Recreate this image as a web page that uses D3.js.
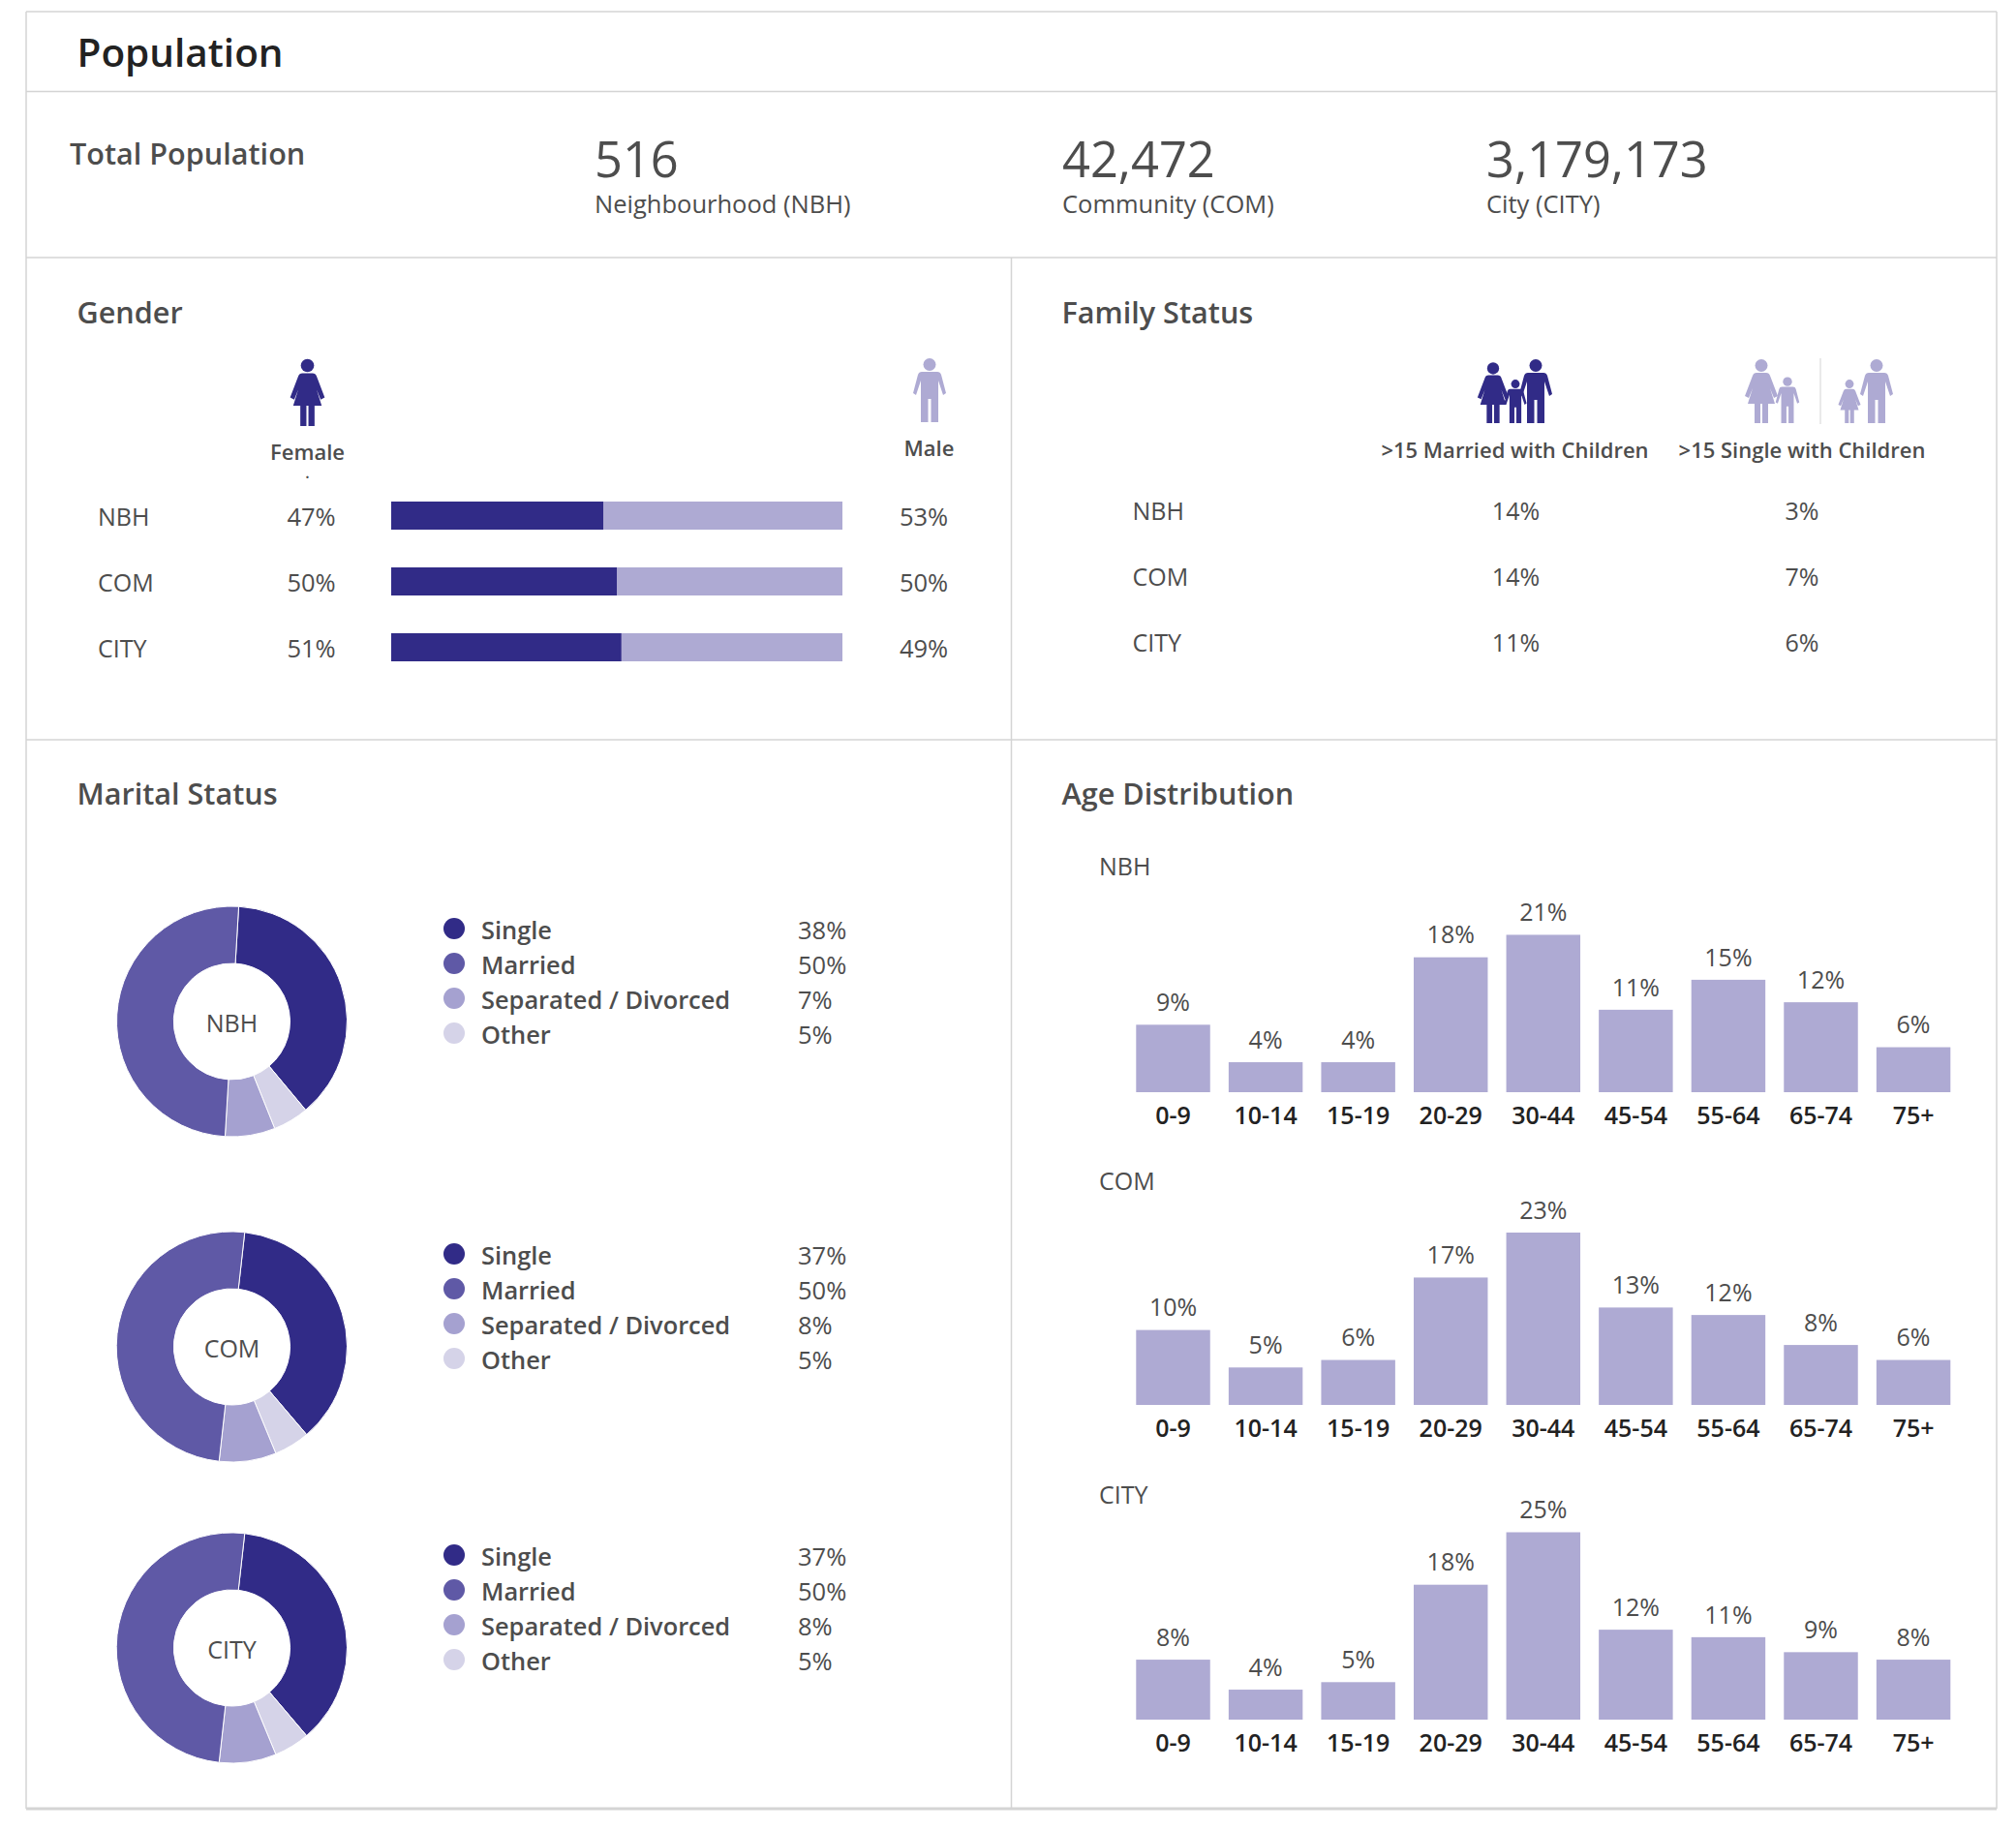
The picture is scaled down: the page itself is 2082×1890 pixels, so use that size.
<!DOCTYPE html>
<html>
<head>
<meta charset="utf-8">
<title>Population</title>
<script src="https://cdn.jsdelivr.net/npm/d3@7"></script>
<style>
  body { margin: 0; background: #fff; }
  text { font-family: "Open Sans", sans-serif; fill: #4d4d4d; }
  .axis path, .axis line { display: none; }
  .axis text { font-family: "Open Sans", sans-serif; font-size: 25px; font-weight: 600; fill: #222; }
</style>
</head>
<body>
<div id="chart"></div>
<script>
// data
var regions = ["NBH", "COM", "CITY"];

var totals = ["516", "42,472", "3,179,173"];
var totalNames = ["Neighbourhood (NBH)", "Community (COM)", "City (CITY)"];

var female = [47, 50, 51];
var male = [53, 50, 49];

var familyHeaders = [">15 Married with Children", ">15 Single with Children"];
var marriedKids = [14, 14, 11];
var singleKids = [3, 7, 6];

var maritalNames = ["Single", "Married", "Separated / Divorced", "Other"];
var singleShare = [38, 37, 37];
var marriedShare = [50, 50, 50];
var separatedShare = [7, 8, 8];
var otherShare = [5, 5, 5];

var ageGroups = ["0-9", "10-14", "15-19", "20-29", "30-44", "45-54", "55-64", "65-74", "75+"];
var ageNBH = [9, 4, 4, 18, 21, 11, 15, 12, 6];
var ageCOM = [10, 5, 6, 17, 23, 13, 12, 8, 6];
var ageCITY = [8, 4, 5, 18, 25, 12, 11, 9, 8];

var dark = "#312b87", mid = "#5f59a6", soft = "#a5a1d0", pale = "#d5d3e8", light = "#aeaad3";
var lineColor = "#d4d4d4";

var svg = d3.select("#chart").append("svg")
    .attr("width", 2082)
    .attr("height", 1890)
    .style("display", "block");

function label(x, y, str, size, opts) {
    opts = opts || {};
    return svg.append("text")
        .attr("x", x)
        .attr("y", y)
        .attr("dy", "0.35em")
        .attr("text-anchor", opts.anchor || "start")
        .style("font-size", size + "px")
        .style("font-weight", opts.weight || 400)
        .style("fill", opts.color || "#4d4d4d")
        .text(str);
}

function rule(x1, y1, x2, y2, w) {
    svg.append("line")
        .attr("x1", x1).attr("y1", y1).attr("x2", x2).attr("y2", y2)
        .attr("stroke", lineColor)
        .attr("stroke-width", w || 1.5);
}

// panel frame
rule(27, 12, 2062, 12);
rule(27, 94.5, 2062, 94.5);
rule(27, 266, 2062, 266);
rule(27, 764, 2062, 764);
rule(27, 1868, 2062, 1868, 3);
rule(27, 12, 27, 1868);
rule(2062, 12, 2062, 1868);
rule(1044.5, 266, 1044.5, 1868);

label(79.5, 54.5, "Population", 40.5, {weight: 600, color: "#222"});

// totals
label(72, 159, "Total Population", 30.6, {weight: 600});
var totalX = [614, 1097, 1535];
totals.forEach(function(t, i) {
    label(totalX[i], 165, t, 50.6);
    label(totalX[i], 211, totalNames[i], 25.5);
});

label(79.5, 323, "Gender", 30.6, {weight: 600});
label(1096.5, 323, "Family Status", 30.6, {weight: 600});
label(79.5, 820, "Marital Status", 30.6, {weight: 600});
label(1096.5, 820, "Age Distribution", 30.6, {weight: 600});

// pictograms
var manPath = "M-8,14 L8,14 Q11,14 12,17 L17,36 L14,38 L9,23 L9,66 L1.5,66 L1.5,42 L-1.5,42 L-1.5,66 L-9,66 L-9,23 L-14,38 L-17,36 L-12,17 Q-11,14 -8,14 Z";
var womanPath = "M-5,14 L5,14 Q8,14 9,17 L17,38 L13,40 L9,30 L14,46 L7,46 L7,66 L1,66 L1,46 L-1,46 L-1,66 L-7,66 L-7,46 L-14,46 L-9,30 L-13,40 L-17,38 L-9,17 Q-8,14 -5,14 Z";

function person(shape, x, bottom, s, color) {
    var g = svg.append("g")
        .attr("transform", "translate(" + x + "," + (bottom - 66 * s) + ") scale(" + s + ")")
        .attr("fill", color);
    g.append("circle").attr("cy", 6.5).attr("r", 6.5);
    g.append("path").attr("d", shape);
}

person(womanPath, 317.5, 440, 1.05, dark);
person(manPath, 960, 436, 1, light);
label(317.5, 467, "Female", 22, {weight: 600, anchor: "middle"});
label(317.5, 488, ".", 16, {weight: 600, anchor: "middle"});
label(959.5, 463, "Male", 22, {weight: 600, anchor: "middle"});

// gender bars
var genderX = d3.scaleLinear().domain([0, 100]).range([404, 870]);
var genderY = d3.scaleBand().domain(regions).range([518, 683]).paddingInner(0.5735);

regions.forEach(function(r, i) {
    var rowY = genderY(r) + genderY.bandwidth() / 2 + 1.5;
    label(101, rowY, r, 25);
    label(321.5, rowY, female[i] + "%", 25.5, {anchor: "middle"});
    label(954, rowY, male[i] + "%", 25.5, {anchor: "middle"});
});

svg.append("g").selectAll("rect")
    .data(regions)
    .enter()
    .append("rect")
    .attr("x", genderX(0))
    .attr("y", d => genderY(d))
    .attr("width", genderX(100) - genderX(0))
    .attr("height", genderY.bandwidth())
    .attr("fill", light);

svg.append("g").selectAll("rect")
    .data(regions)
    .enter()
    .append("rect")
    .attr("x", genderX(0))
    .attr("y", d => genderY(d))
    .attr("width", (d, i) => genderX(female[i]) - genderX(0))
    .attr("height", genderY.bandwidth())
    .attr("fill", dark);

// family status
person(womanPath, 1542, 437, 0.95, dark);
person(manPath, 1586, 437, 1, dark);
person(manPath, 1565, 437, 0.68, dark);
person(womanPath, 1819, 437, 1, light);
person(manPath, 1846, 437, 0.72, light);
person(womanPath, 1910, 437, 0.68, light);
person(manPath, 1938, 437, 1, light);
rule(1880, 370, 1880, 438, 1);

label(1564.5, 465, familyHeaders[0], 22, {weight: 600, anchor: "middle"});
label(1861, 465, familyHeaders[1], 22, {weight: 600, anchor: "middle"});

var familyRowY = [528.5, 596.5, 664.5];
regions.forEach(function(r, i) {
    label(1169.5, familyRowY[i], r, 25);
    label(1565.5, familyRowY[i], marriedKids[i] + "%", 25, {anchor: "middle"});
    label(1861, familyRowY[i], singleKids[i] + "%", 25, {anchor: "middle"});
});

// marital donuts
var sliceColors = {"Single": dark, "Married": mid, "Separated / Divorced": soft, "Other": pale};
var legendColors = [dark, mid, soft, pale];
var donutY = [1055, 1391, 1702];
var legendY = [960, 1296, 1607];
var donutStart = [3.4, 6.4, 6.4];
var arc = d3.arc().innerRadius(60).outerRadius(119);

regions.forEach(function(r, i) {
    var slices = [
        {name: "Single", value: singleShare[i]},
        {name: "Other", value: otherShare[i]},
        {name: "Separated / Divorced", value: separatedShare[i]},
        {name: "Married", value: marriedShare[i]}
    ];
    var start = donutStart[i] * Math.PI / 180;
    var pie = d3.pie().sort(null).value(d => d.value)
        .startAngle(start).endAngle(start + 2 * Math.PI);

    svg.append("g")
        .attr("transform", "translate(239.5," + donutY[i] + ")")
        .selectAll("path")
        .data(pie(slices))
        .enter()
        .append("path")
        .attr("d", arc)
        .attr("fill", d => sliceColors[d.data.name])
        .attr("stroke", "#fff")
        .attr("stroke-width", 1);

    label(239.5, donutY[i] + 2, r, 25, {anchor: "middle"});

    var shares = [singleShare[i], marriedShare[i], separatedShare[i], otherShare[i]];
    maritalNames.forEach(function(n, k) {
        var y = legendY[i] + k * 36;
        svg.append("circle").attr("cx", 469).attr("cy", y - 1).attr("r", 11).attr("fill", legendColors[k]);
        label(497, y + 1, n, 25.4, {weight: 600});
        label(824, y + 1, shares[k] + "%", 25.5);
    });
});

// age distribution
var ageX = d3.scaleBand().domain(ageGroups).range([1173.3, 2014.3]).paddingInner(0.2);
var ageHeight = d3.scaleLinear().domain([0, 25]).range([0, 193.5]);
var ageRows = [ageNBH, ageCOM, ageCITY];
var ageBase = [1128, 1451, 1776];
var ageTitleY = [895, 1220, 1544];

ageRows.forEach(function(values, i) {
    label(1135, ageTitleY[i], regions[i], 25);

    var row = svg.append("g").attr("transform", "translate(0," + ageBase[i] + ")");

    row.selectAll("rect")
        .data(values)
        .enter()
        .append("rect")
        .attr("x", (d, k) => ageX(ageGroups[k]))
        .attr("y", d => -ageHeight(d))
        .attr("width", ageX.bandwidth())
        .attr("height", d => ageHeight(d))
        .attr("fill", light);

    row.selectAll("text.val")
        .data(values)
        .enter()
        .append("text")
        .attr("class", "val")
        .attr("x", (d, k) => ageX(ageGroups[k]) + ageX.bandwidth() / 2)
        .attr("y", d => -ageHeight(d) - 23)
        .attr("dy", "0.35em")
        .attr("text-anchor", "middle")
        .style("font-size", "25px")
        .text(d => d + "%");

    row.append("g")
        .attr("class", "axis")
        .call(d3.axisBottom(ageX).tickSize(0).tickPadding(15));
});
</script>
</body>
</html>
